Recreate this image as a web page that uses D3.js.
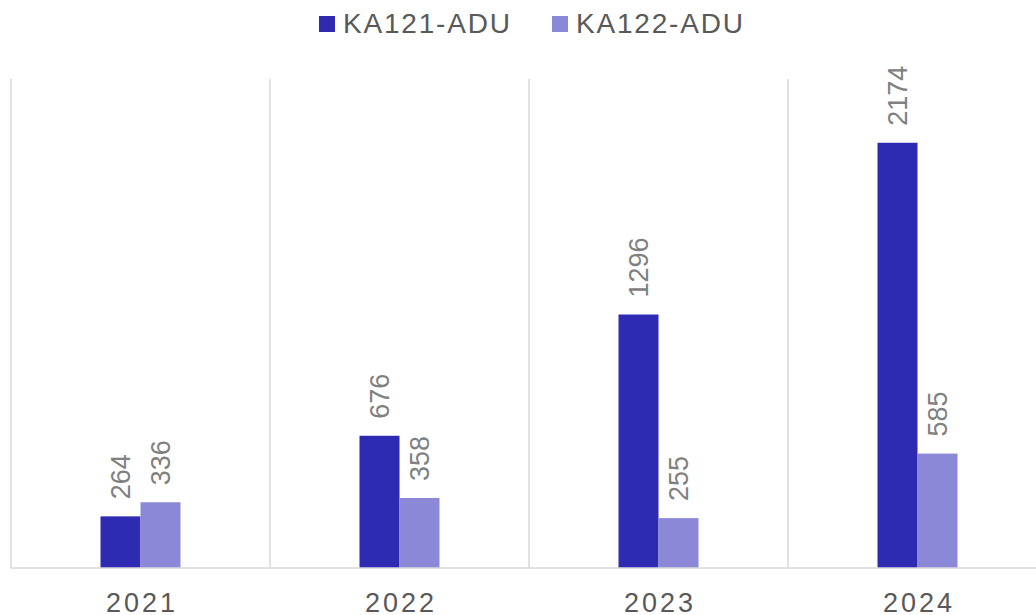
<!DOCTYPE html>
<html>
<head>
<meta charset="utf-8">
<script src="https://cdn.jsdelivr.net/npm/d3@7"></script>
<style>
  body { margin: 0; background: #fff; }
  svg { display: block; font-family: "Liberation Sans", Arial, sans-serif; }
</style>
</head>
<body>
<svg id="chart" width="1036" height="615"></svg>
<script>
var years = ["2021", "2022", "2023", "2024"];
var seriesNames = ["KA121-ADU", "KA122-ADU"];
var ka121 = [264, 676, 1296, 2174];
var ka122 = [336, 358, 255, 585];
var colors = ["#2e2bb2", "#8b88d8"];

var width = 1036, height = 615;
var margin = { top: 79, right: -11, bottom: 47, left: 11 };
var baseY = height - margin.bottom;

var svg = d3.select("#chart");

var x = d3.scaleBand()
    .domain(years)
    .range([margin.left, width - margin.right])
    .paddingInner(0)
    .paddingOuter(0);

var bw = x.bandwidth();
var xs = d3.scaleBand()
    .domain(seriesNames)
    .range([bw / 2 - 40, bw / 2 + 40]);

var y = d3.scaleLinear()
    .domain([0, 2500])
    .range([baseY, margin.top]);

// vertical separators
svg.append("g")
    .selectAll("line")
    .data(years)
  .enter().append("line")
    .attr("x1", function(d) { return x(d); })
    .attr("x2", function(d) { return x(d); })
    .attr("y1", margin.top)
    .attr("y2", baseY)
    .attr("stroke", "#d9d9d9")
    .attr("stroke-width", 1.5);

var rows = years.map(function(yr, i) {
    return { year: yr, values: [ka121[i], ka122[i]] };
});

var groups = svg.append("g")
    .selectAll("g")
    .data(rows)
  .enter().append("g")
    .attr("transform", function(d) { return "translate(" + x(d.year) + ",0)"; });

groups.selectAll("rect")
    .data(function(d) {
        return d.values.map(function(v, j) { return { name: seriesNames[j], value: v, idx: j }; });
    })
  .enter().append("rect")
    .attr("x", function(d) { return xs(d.name); })
    .attr("y", function(d) { return y(d.value); })
    .attr("width", xs.bandwidth())
    .attr("height", function(d) { return baseY - y(d.value); })
    .attr("fill", function(d) { return colors[d.idx]; });

groups.selectAll("text")
    .data(function(d) {
        return d.values.map(function(v, j) { return { name: seriesNames[j], value: v }; });
    })
  .enter().append("text")
    .attr("transform", function(d) {
        var cx = xs(d.name) + xs.bandwidth() / 2 + 9.5;
        return "translate(" + cx + "," + (y(d.value) - 17) + ") rotate(-90)";
    })
    .attr("font-size", 27)
    .attr("fill", "#808080")
    .text(function(d) { return d.value; });

// baseline
svg.append("line")
    .attr("x1", margin.left)
    .attr("x2", width)
    .attr("y1", baseY)
    .attr("y2", baseY)
    .attr("stroke", "#d9d9d9")
    .attr("stroke-width", 1.5);

// x axis labels
var xAxis = d3.axisBottom(x).tickSize(0).tickPadding(0);
var axisG = svg.append("g")
    .attr("transform", "translate(1.5," + baseY + ")")
    .call(xAxis);
axisG.select(".domain").remove();
axisG.selectAll("text")
    .attr("dy", null)
    .attr("y", 44)
    .attr("font-size", 27)
    .attr("font-family", "Liberation Sans, Arial, sans-serif")
    .attr("letter-spacing", 3)
    .attr("fill", "#595959");

// legend
var legendX = [319, 552];
var legend = svg.append("g")
    .selectAll("g")
    .data(seriesNames)
  .enter().append("g")
    .attr("transform", function(d, i) { return "translate(" + legendX[i] + ",16)"; });

legend.append("rect")
    .attr("width", 16)
    .attr("height", 16)
    .attr("fill", function(d, i) { return colors[i]; });

legend.append("text")
    .attr("x", 24)
    .attr("y", 17)
    .attr("font-size", 28)
    .attr("letter-spacing", 1.8)
    .attr("fill", "#595959")
    .text(function(d) { return d; });
</script>
</body>
</html>
